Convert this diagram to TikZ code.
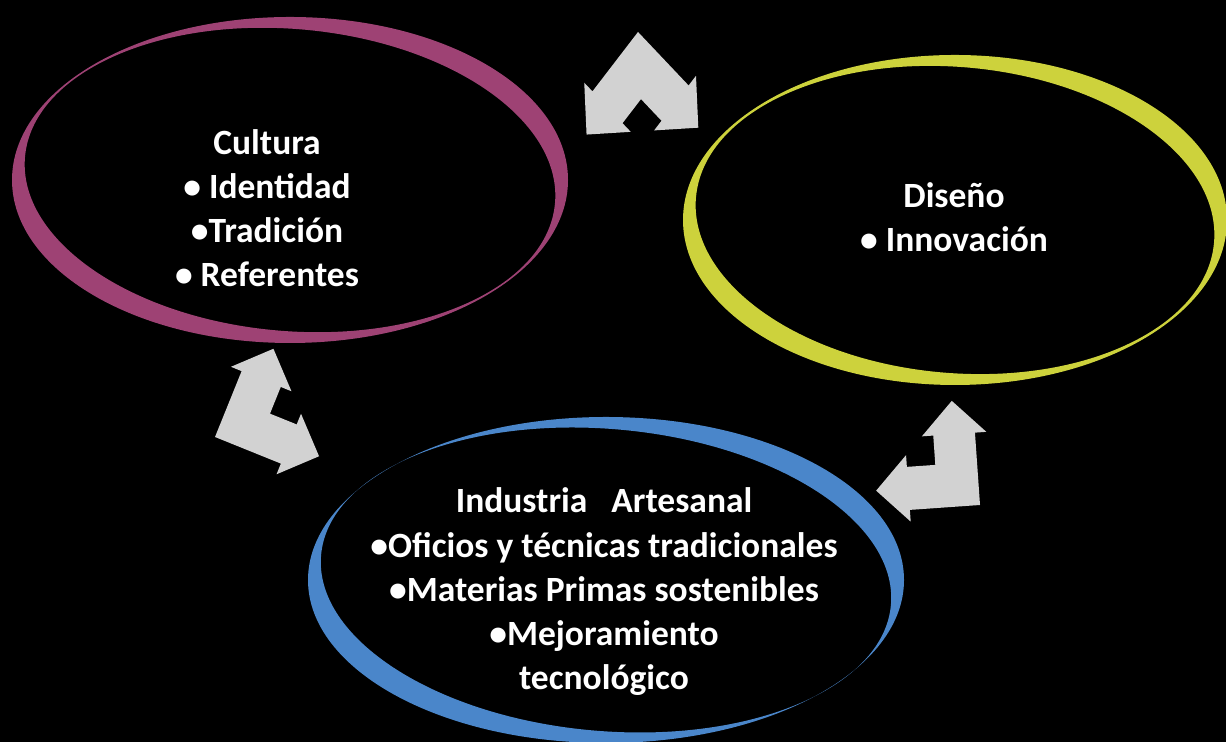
\documentclass[tikz,border=0pt]{standalone}
\usepackage{fontspec}
\setmainfont{Carlito}
\definecolor{ringpink}{HTML}{9E4274}
\definecolor{ringyellow}{HTML}{CDD23C}
\definecolor{ringblue}{HTML}{4A86CA}
\definecolor{arrgray}{HTML}{D2D2D2}
\begin{document}
\begin{tikzpicture}[x=0.02cm,y=0.02cm,
  txt/.style={text=white, font=\bfseries\fontsize{20.2}{25.2}\selectfont, align=center, inner sep=0pt, anchor=base},
  ring/.style={even odd rule},
  bentarrow/.pic={\fill[arrgray] (0,0) -- (74,0) -- (74,-12) -- (108,22) -- (74,56) -- (74,44) -- (44,44) -- (44,74) -- (56,74) -- (22,108) -- (-12,74) -- (0,74) -- cycle;}]
\fill[black] (0,0) rectangle (1226,742);
\useasboundingbox (0,0) rectangle (1226,742);
% rings
\fill[ringpink, ring] (290,562) ellipse [x radius=278, y radius=163]
   (290,562) ellipse [x radius=266, y radius=151, rotate=-5];
\fill[ringyellow, ring] (955,522) ellipse [x radius=272, y radius=165]
   (955,522) ellipse [x radius=260, y radius=153, rotate=-5];
\fill[ringblue, ring] (606,162) ellipse [x radius=298, y radius=163]
   (606,162) ellipse [x radius=286, y radius=151, rotate=-5];
% arrows
\pic[xscale=0.92,yscale=1.08,rotate=228] (arrtop) at (638,710) {bentarrow};
\pic[rotate=-22,scale=0.96] (arrleft) at (215,305) {bentarrow};
\pic[rotate=4,xscale=-0.95,yscale=0.98] (arrright) at (980,237) {bentarrow};
% texts
\node[txt] (cultura) at (267,455) {Cultura\\• Identidad\\•Tradición\\• Referentes};
\node[txt] (diseno) at (954,490) {Diseño\\• Innovación};
\node[txt] (industria) at (604,52) {Industria\ \ \ Artesanal\\•Oficios y técnicas tradicionales\\•Materias Primas sostenibles\\•Mejoramiento\\tecnológico};
\end{tikzpicture}
\end{document}
